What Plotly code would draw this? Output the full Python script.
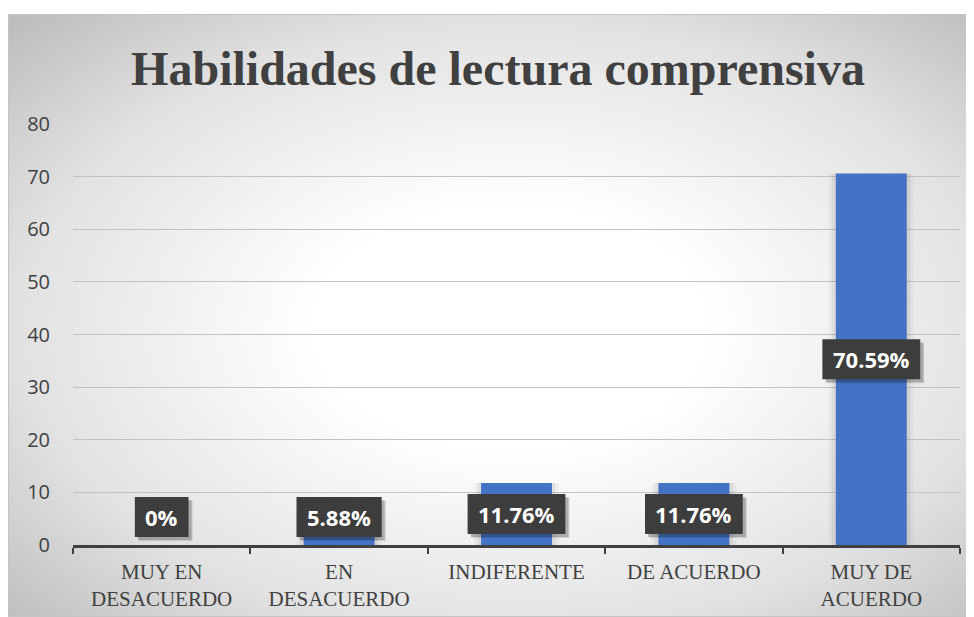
import base64
import plotly.graph_objects as go

categories = ["MUY EN<br>DESACUERDO", "EN<br>DESACUERDO", "INDIFERENTE", "DE ACUERDO", "MUY DE<br>ACUERDO"]
values = [0, 5.88, 11.76, 11.76, 70.59]
labels = ["0%", "5.88%", "11.76%", "11.76%", "70.59%"]
y_ticks = [0, 10, 20, 30, 40, 50, 60, 70, 80]
title = "Habilidades de lectura comprensiva"

W, H = 966, 609
ML, MR, MT, MB = 65, 14, 116, 72
PW, PH = W - ML - MR, H - MT - MB
BOX_TOP = 6  # chart box top in figure px

def px_to_paper_x(px):
    return (px - ML) / PW

def px_to_paper_y(py):
    return (H - MB - py) / PH

# approximate glyph advances (px) of Open Sans Bold at 22px, for label box sizing
CHAR_W = {".": 6.3, "%": 19.1}
def text_width(t):
    return sum(CHAR_W.get(ch, 12.6) for ch in t)

svg = (
    "<svg xmlns='http://www.w3.org/2000/svg' width='966' height='603' preserveAspectRatio='none'>"
    "<defs><radialGradient id='g' cx='0.52' cy='0.52' r='0.72'>"
    "<stop offset='0' stop-color='#ffffff'/>"
    "<stop offset='0.28' stop-color='#ffffff'/>"
    "<stop offset='0.7' stop-color='#e2e2e2'/>"
    "<stop offset='1' stop-color='#bdbdbd'/>"
    "</radialGradient></defs>"
    "<rect x='0' y='0' width='966' height='603' fill='url(#g)'/></svg>"
)
svg_uri = "data:image/svg+xml;base64," + base64.b64encode(svg.encode()).decode()

fig = go.Figure()

# soft shadows behind bars
for w, a in [(0.48, 0.035), (0.44, 0.06)]:
    fig.add_trace(go.Bar(x=categories, y=values, width=w,
                         marker=dict(color=f"rgba(0,0,0,{a})", line=dict(width=0)),
                         hoverinfo="skip", showlegend=False))
fig.add_trace(go.Bar(x=categories, y=values, width=0.4,
                     marker=dict(color="#4472C4", line=dict(width=0)),
                     showlegend=False))

LABEL_MIN = 5.3
BOX_H = 40
annotations = []
shapes = []
for i, (c, v, t) in enumerate(zip(categories, values, labels)):
    yc = max(v / 2, LABEL_MIN)
    bw = text_width(t) + 22
    # shadow layers
    for off, a in [(4, 0.12), (3, 0.18)]:
        shapes.append(dict(type="rect", xref="x", yref="y", xsizemode="pixel", ysizemode="pixel",
                           xanchor=i, yanchor=yc,
                           x0=-bw / 2 + off, x1=bw / 2 + off, y0=-BOX_H / 2 - off, y1=BOX_H / 2 - off,
                           fillcolor=f"rgba(0,0,0,{a})", line=dict(width=0), layer="above"))
    shapes.append(dict(type="rect", xref="x", yref="y", xsizemode="pixel", ysizemode="pixel",
                       xanchor=i, yanchor=yc,
                       x0=-bw / 2, x1=bw / 2, y0=-BOX_H / 2, y1=BOX_H / 2,
                       fillcolor="#3d3d3d", line=dict(width=0), layer="above"))
    annotations.append(dict(x=c, y=yc, xref="x", yref="y", text="<b>" + t + "</b>", showarrow=False,
                            font=dict(family="Open Sans", size=22, color="#ffffff"),
                            yshift=0))

shapes.append(dict(type="rect", xref="paper", yref="paper",
                   x0=px_to_paper_x(0.5), x1=px_to_paper_x(W - 0.5),
                   y0=px_to_paper_y(H - 0.5), y1=px_to_paper_y(BOX_TOP + 0.5),
                   line=dict(color="#c4c4c4", width=1), fillcolor="rgba(0,0,0,0)", layer="below"))

fig.update_layout(
    width=W, height=H,
    margin=dict(l=ML, r=MR, t=MT, b=MB, pad=0, autoexpand=False),
    paper_bgcolor="#ffffff",
    plot_bgcolor="rgba(0,0,0,0)",
    barmode="overlay",
    bargap=0.6,
    title=dict(text="<b>" + title + "</b>", x=490 / W, xref="container", xanchor="center",
               y=1 - 60 / H, yref="container", yanchor="middle",
               font=dict(family="Liberation Serif", size=48, color="#404040")),
    xaxis=dict(type="category", showgrid=False, showline=True, linecolor="#404040", linewidth=2.5,
               ticks="outside", tickson="boundaries", ticklen=6, tickwidth=2, tickcolor="#404040",
               tickfont=dict(family="Liberation Serif", size=21, color="#404040"),
               ticklabelstandoff=6, zeroline=False, automargin=False),
    yaxis=dict(range=[0, 80], tickvals=y_ticks, showgrid=True, gridcolor="#c2c2c2", gridwidth=1,
               showline=False, zeroline=False, ticks="",
               tickfont=dict(family="Open Sans", size=20, color="#404040"),
               ticklabelstandoff=22, automargin=False),
    annotations=annotations,
    images=[dict(source=svg_uri, xref="paper", yref="paper",
                 x=px_to_paper_x(0), y=px_to_paper_y(BOX_TOP),
                 sizex=W / PW, sizey=(H - BOX_TOP) / PH,
                 xanchor="left", yanchor="top", sizing="stretch", layer="below")],
    shapes=shapes,
)

fig.write_html("out.html")
